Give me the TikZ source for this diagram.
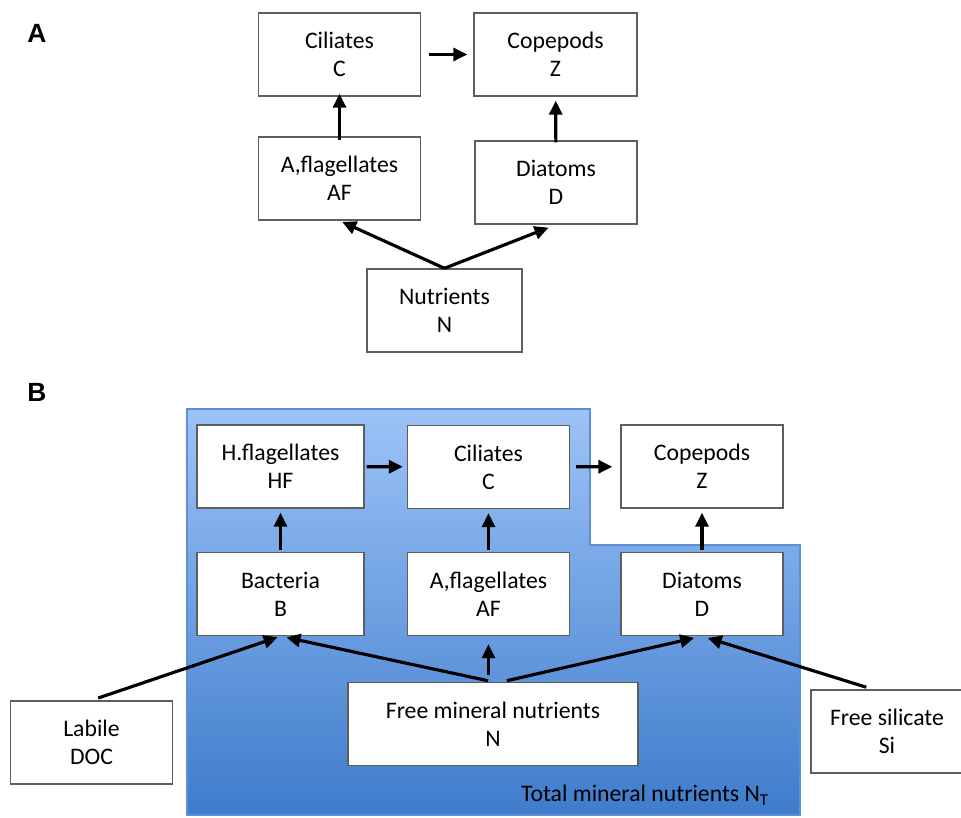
\documentclass[tikz,border=0pt]{standalone}
\usepackage{fontspec}
\setmainfont{Carlito}
\newfontfamily\panelfont{Liberation Sans}
\usepackage{tikz}
\usetikzlibrary{arrows.meta, positioning}
\definecolor{boxgray}{HTML}{5E5E5E}
\definecolor{skyblue}{HTML}{9DC3F7}
\definecolor{deepblue}{HTML}{3E7CCB}
\definecolor{edgeblue}{HTML}{5B8FD6}

\begin{document}
\begin{tikzpicture}[
    x=0.02cm, y=-0.02cm,
    font=\fontsize{13.5}{16}\selectfont,
    >={Triangle[length=0.28cm, width=0.26cm]},
    taxon/.style={draw=boxgray, fill=white, line width=0.8pt,
                  align=center, inner sep=0pt,
                  minimum width=3.24cm, minimum height=1.66cm},
    panel/.style={font=\panelfont\bfseries\fontsize{15}{18}\selectfont},
    flow/.style={draw=black, line width=1.8pt, ->},
    pool/.style={draw=edgeblue, line width=0.6pt, top color=skyblue, bottom color=deepblue}
]
  \useasboundingbox (0,0) rectangle (961,818);

  % Panel A: simple food web
  \node[panel] (lblA) at (37,33) {A};
  \node[taxon] (cilA) at (339.5,54.5) {Ciliates\\C};
  \node[taxon, minimum width=3.26cm] (copA) at (555.5,54.5) {Copepods\\Z};
  \node[taxon] (afA)  at (339.5,178.5) {A,flagellates\\AF};
  \node[taxon] (diaA) at (556,182.5) {Diatoms\\D};
  \node[taxon, minimum width=3.1cm] (nutA) at (444.5,310.5) {Nutrients\\N};

  \draw[flow, shorten <=8*0.02cm, shorten >=6*0.02cm] (cilA) -- (copA);
  \draw[flow, shorten <=-4*0.02cm, shorten >=-3*0.02cm] (afA) -- (cilA);
  \draw[flow, shorten <=-2*0.02cm, shorten >=4*0.02cm] (diaA) -- (copA);
  \draw[flow, shorten >=3*0.02cm] (nutA.north) -- (afA.south);
  \draw[flow, shorten >=8*0.02cm] (nutA.north) -- (diaA.south);

  % Panel B: extended food web inside the total nutrient pool
  \node[panel] (lblB) at (37,392) {B};
  \path[pool] (187,409) -- (590,409) -- (590,545) -- (800,545)
    -- (800,815) -- (187,815) -- cycle;
  \node (total) at (645,795) {Total mineral nutrients N\textsubscript{T}};

  \node[taxon, minimum width=3.34cm] (hf)   at (280.5,466.5) {H.flagellates\\HF};
  \node[taxon] (cilB) at (488.5,467) {Ciliates\\C};
  \node[taxon] (copB) at (702,466.5) {Copepods\\Z};
  \node[taxon, minimum width=3.34cm] (bac)  at (280.5,594) {Bacteria\\B};
  \node[taxon] (afB)  at (488.5,594) {A,flagellates\\AF};
  \node[taxon] (diaB) at (702,594) {Diatoms\\D};
  \node[taxon, minimum width=5.8cm] (nfree) at (493,724) {Free mineral nutrients\\N};
  \node[taxon] (doc) at (91.5,742.5) {Labile\\DOC};
  \node[taxon, minimum width=3.04cm] (si) at (887,731.5) {Free silicate\\Si};

  \draw[flow, shorten <=2*0.02cm, shorten >=4*0.02cm] (hf) -- (cilB);
  \draw[flow, shorten <=6*0.02cm, shorten >=8*0.02cm] (cilB) -- (copB);
  \foreach \low/\high in {bac/hf, afB/cilB, diaB/copB}
    \draw[flow, shorten <=2*0.02cm, shorten >=4*0.02cm] (\low) -- (\high);
  \draw[flow, shorten <=7*0.02cm, shorten >=8*0.02cm] (afB |- nfree.north) -- (afB);
  \draw[flow, shorten <=7*0.02cm, shorten >=3*0.02cm] (doc.north) -- (bac.south);
  \draw[flow, shorten <=5*0.02cm, shorten >=6*0.02cm] (nfree.north) -- (bac.south);
  \draw[flow, shorten <=5*0.02cm, shorten >=8*0.02cm] ([xshift=9*0.02cm]nfree.north) -- (diaB.south);
  \draw[flow, shorten <=7*0.02cm, shorten >=6*0.02cm] ([xshift=-14*0.02cm]si.north) -- (diaB.south);
\end{tikzpicture}
\end{document}
